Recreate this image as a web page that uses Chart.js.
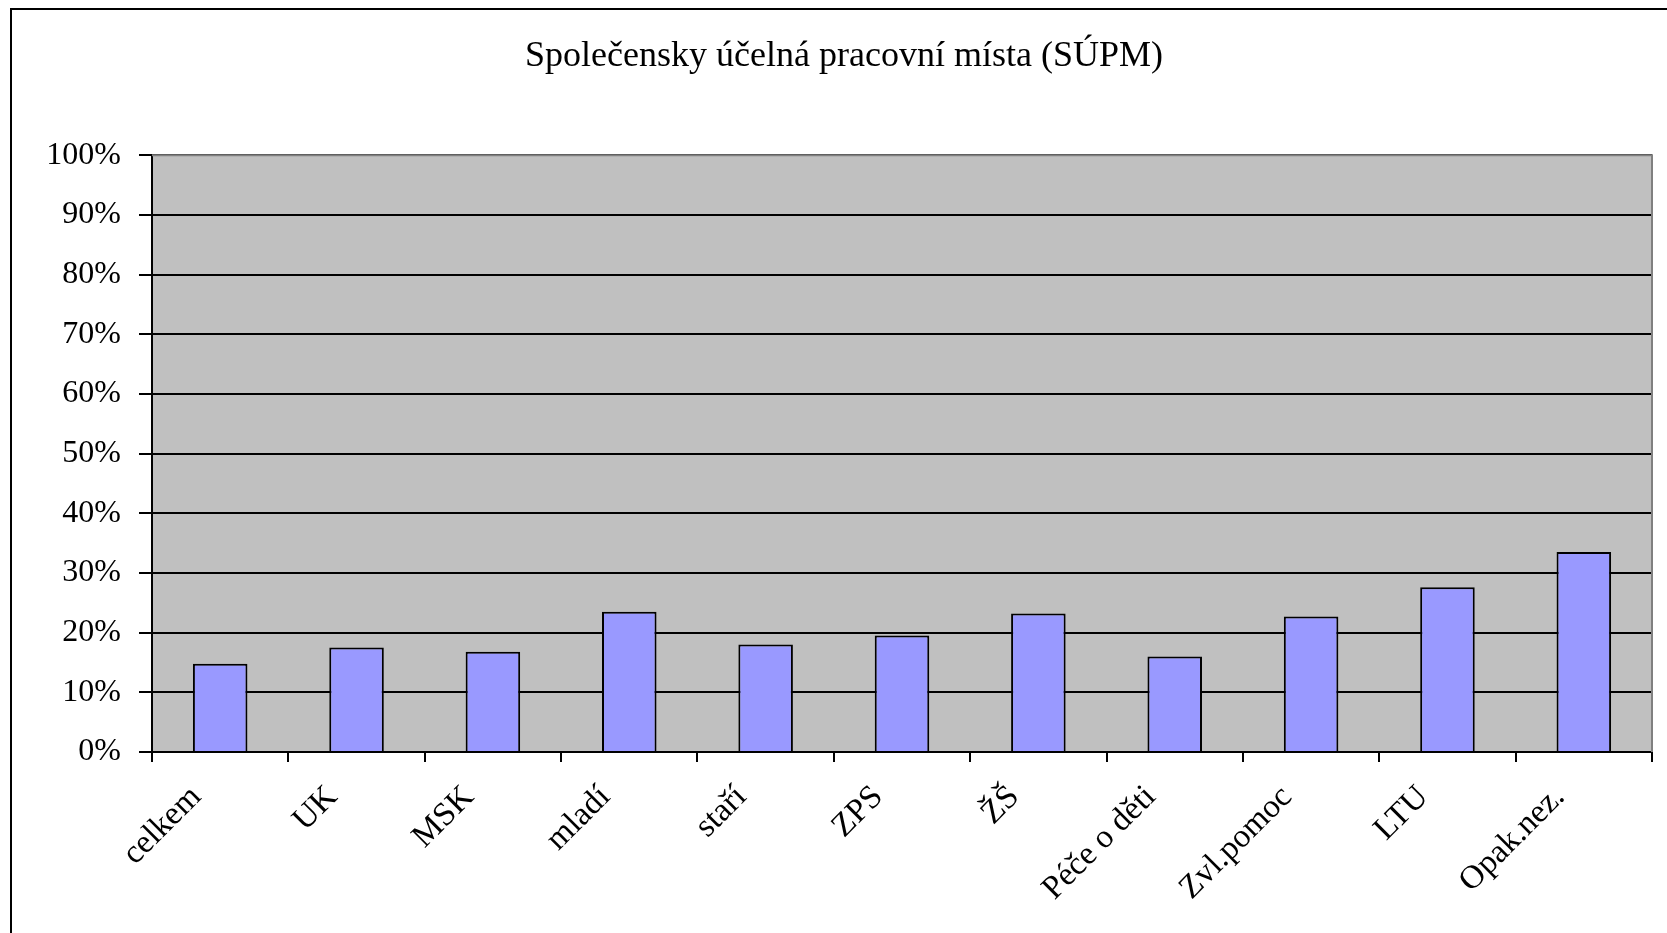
<!DOCTYPE html>
<html>
<head>
<meta charset="utf-8">
<script src="https://cdn.jsdelivr.net/npm/chart.js@4/dist/chart.umd.min.js"></script>
<style>
  html, body { margin: 0; padding: 0; background: #fff; }
  #wrap { width: 1667px; height: 933px; }
</style>
</head>
<body>
<div id="wrap"><canvas id="myChart" width="1667" height="933"></canvas></div>
<script>
var categories = ["celkem", "UK", "MSK", "mladí", "staří", "ZPS", "ŽŠ", "Péče o děti", "Zvl.pomoc", "LTU", "Opak.nez."];
var shares = [14.8, 17.5, 16.8, 23.5, 18.0, 19.5, 23.2, 16.0, 22.7, 27.6, 33.5];
var yTicks = [0, 10, 20, 30, 40, 50, 60, 70, 80, 90, 100];
var chartTitle = "Společensky účelná pracovní místa (SÚPM)";

var serif = "'Liberation Serif', 'Times New Roman', serif";

// gray plot area + outer frame, like the old Excel chart
var backdrop = {
  id: "backdrop",
  beforeDraw: function (chart) {
    var c = chart.ctx, a = chart.chartArea;
    c.save();
    c.fillStyle = "#c0c0c0";
    c.fillRect(a.left, a.top, a.right - a.left, a.bottom - a.top);
    c.restore();
  },
  afterDatasetsDraw: function (chart) {
    var c = chart.ctx, a = chart.chartArea;
    c.save();
    c.strokeStyle = "#808080";
    c.lineWidth = 2;
    c.beginPath();
    c.moveTo(a.left, a.top);
    c.lineTo(a.right, a.top);
    c.lineTo(a.right, a.bottom);
    c.stroke();
    c.strokeStyle = "#000";
    c.lineWidth = 2;
    c.beginPath();
    c.moveTo(11, 940);
    c.lineTo(11, 9);
    c.lineTo(1680, 9);
    c.stroke();
    c.restore();
  }
};

document.addEventListener("DOMContentLoaded", function () {
  var ctx = document.getElementById("myChart").getContext("2d");

  var chartData = {
    labels: categories,
    datasets: [
      {
        label: chartTitle,
        data: shares,
        backgroundColor: "#9999ff",
        borderColor: "#000000",
        borderWidth: 2,
        barPercentage: 0.40,
        categoryPercentage: 1.0
      }
    ]
  };

  new Chart(ctx, {
    type: "bar",
    data: chartData,
    plugins: [backdrop],
    options: {
      responsive: false,
      animation: false,
      layout: { padding: { left: 36, right: 15, top: 0, bottom: 0 } },
      plugins: {
        legend: { display: false },
        tooltip: { enabled: false },
        title: {
          display: true,
          text: chartTitle,
          color: "#000",
          font: { family: serif, size: 36, weight: "normal", lineHeight: 1.2 },
          padding: { top: 35, bottom: 77 }
        }
      },
      scales: {
        x: {
          offset: true,
          grid: {
            offset: true,
            drawOnChartArea: false,
            drawTicks: true,
            tickLength: 10,
            color: "#000",
            lineWidth: 2
          },
          border: { display: true, color: "#000", width: 2 },
          ticks: {
            color: "#000",
            font: { family: serif, size: 33 },
            maxRotation: 45,
            minRotation: 45,
            padding: 16,
            labelOffset: -24,
            autoSkip: false
          },
          afterFit: function (scale) { scale.height = 181; }
        },
        y: {
          min: 0,
          max: 100,
          afterBuildTicks: function (scale) {
            scale.ticks = yTicks.map(function (v) { return { value: v }; });
          },
          grid: {
            color: "#000",
            lineWidth: 2,
            tickLength: 13
          },
          border: { display: true, color: "#000", width: 2 },
          ticks: {
            color: "#000",
            font: { family: serif, size: 32 },
            padding: 18,
            callback: function (v) { return v + "%"; }
          },
          afterFit: function (scale) { scale.width = 116; }
        }
      }
    }
  });
});
</script>
</body>
</html>
